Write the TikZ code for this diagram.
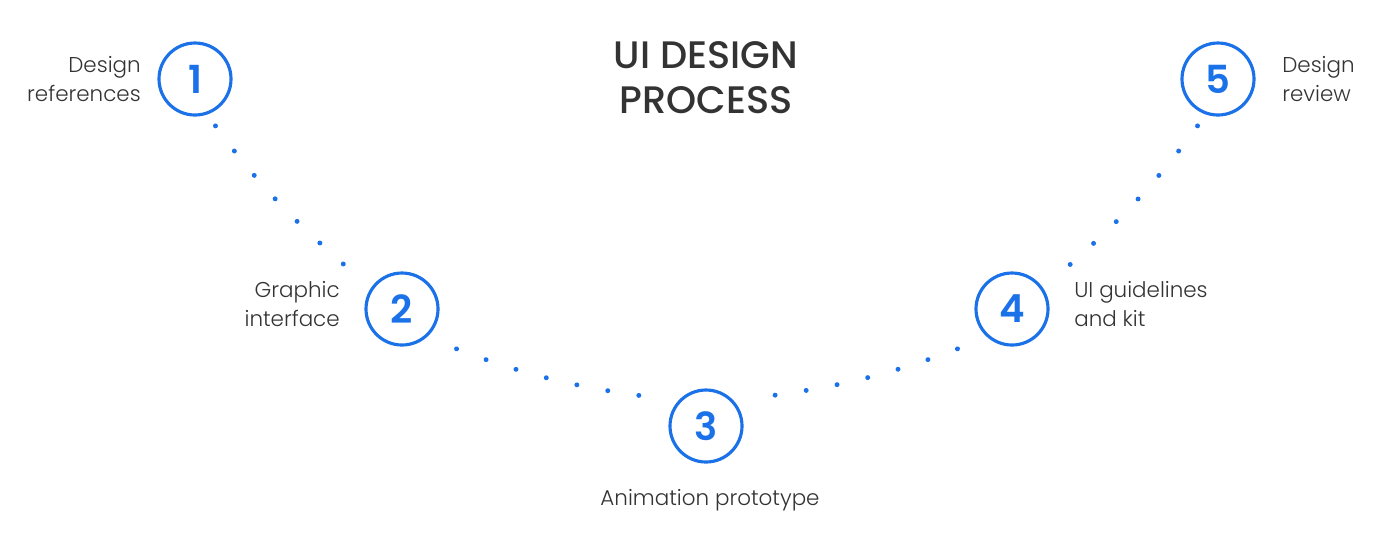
\documentclass[tikz,border=0pt]{standalone}
\usepackage{fontspec}
\setmainfont{Poppins}[UprightFont=* Light, BoldFont=* SemiBold]
\newfontfamily\titlefont{Poppins Medium}
\usetikzlibrary{positioning}
\definecolor{stepblue}{RGB}{27,114,232}
\definecolor{inkgray}{RGB}{51,51,51}

\begin{document}
\begin{tikzpicture}[num/.style={circle, draw=stepblue, line width=0.9pt, minimum size=7.2mm, inner sep=0pt, text=stepblue, font=\fontsize{11}{11}\selectfont\bfseries}, lbl/.style={inner sep=0pt, text=inkgray, font=\fontsize{6.1}{8.5}\selectfont}, dots/.style={stepblue, line width=1.4pt, line cap=round, dash pattern=on 0.01pt off 3.14mm}]
	\useasboundingbox (0,0) rectangle (14,5.5);
	\node[align=center, text=inkgray, font=\titlefont\fontsize{10.9}{12.8}\selectfont] (title) at (7.06,4.72) {UI DESIGN\\PROCESS};
	\node[num] (n1) at (1.95,4.71) {1};
	\node[num] (n2) at (4.02,2.41) {2};
	\node[num] (n3) at (7.06,1.24) {3};
	\node[num] (n4) at (10.12,2.41) {4};
	\node[num] (n5) at (12.18,4.71) {5};
	\node[lbl, align=right, left=1.6mm of n1] (l1) {Design\\references};
	\node[lbl, align=right, left=2.4mm of n2, yshift=0.5mm] (l2) {Graphic\\interface};
	\node[lbl, below=2.5mm of n3, xshift=0.4mm] (l3) {Animation prototype};
	\node[lbl, align=left, right=2.4mm of n4, yshift=0.5mm] (l4) {UI guidelines\\and kit};
	\node[lbl, align=left, right=2.6mm of n5] (l5) {Design\\review};
	\draw[dots, shorten <=1.4mm, shorten >=2.2mm] (n1.-71) to[out=-54, in=139] (n2.146);
	\draw[dots, shorten <=3.2mm, shorten >=2.6mm] (n2.-49) to[out=-21, in=173] (n3.137);
	\draw[dots, shorten <=3.2mm, shorten >=2.6mm] (n4.-131) to[out=-159, in=7] (n3.43);
	\draw[dots, shorten <=1.4mm, shorten >=2.2mm] (n5.-109) to[out=-126, in=41] (n4.34);
\end{tikzpicture}
\end{document}
